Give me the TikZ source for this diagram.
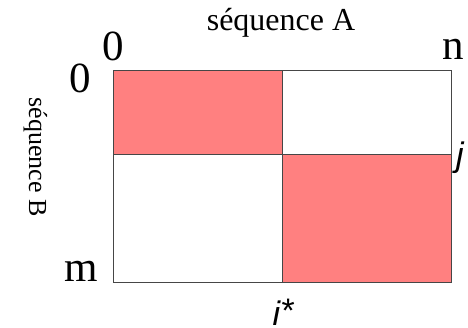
\documentclass[tikz,border=0pt]{standalone}
\usepackage{fontspec}
\setmainfont{Liberation Serif}
\setsansfont{Liberation Sans}
\definecolor{cellred}{RGB}{255,128,128}
\definecolor{gridline}{RGB}{70,70,70}
\begin{document}
\begin{tikzpicture}[x=1pt,y=-1pt,
  bigtxt/.style={inner sep=0pt,font=\fontsize{43}{43}\selectfont},
  axtxt/.style={inner sep=0pt,font=\fontsize{26}{26}\selectfont},
  idxtxt/.style={inner sep=0pt,font=\fontsize{34}{34}\selectfont\sffamily\itshape},
  cell/.style={draw=gridline,line width=1pt}]
\useasboundingbox (0,0) rectangle (468,327);
% cells
\path[cell,fill=cellred] (113,70) rectangle (282,154.5);
\path[cell,fill=white] (282,70) rectangle (451,154.5);
\path[cell,fill=white] (113,154.5) rectangle (282,282);
\path[cell,fill=cellred] (282,154.5) rectangle (451,282);
% labels
\node[axtxt,font=\fontsize{32}{32}\selectfont,anchor=base] (seqA) at (281,30) {séquence A};
\node[axtxt,anchor=base,rotate=-90] (seqB) at (29,157) {séquence B};
\node[bigtxt,anchor=base] (a0) at (113,60) {0};
\node[bigtxt,anchor=base] (an) at (453,59) {n};
\node[bigtxt,anchor=base] (b0) at (80,92) {0};
\node[bigtxt,anchor=base] (bm) at (81,281) {m};
\node[idxtxt,anchor=base] (istar) at (283,325) {i\raisebox{3pt}{*}};
\node[idxtxt,anchor=base west] (jlab) at (456,166) {j};
\end{tikzpicture}
\end{document}
